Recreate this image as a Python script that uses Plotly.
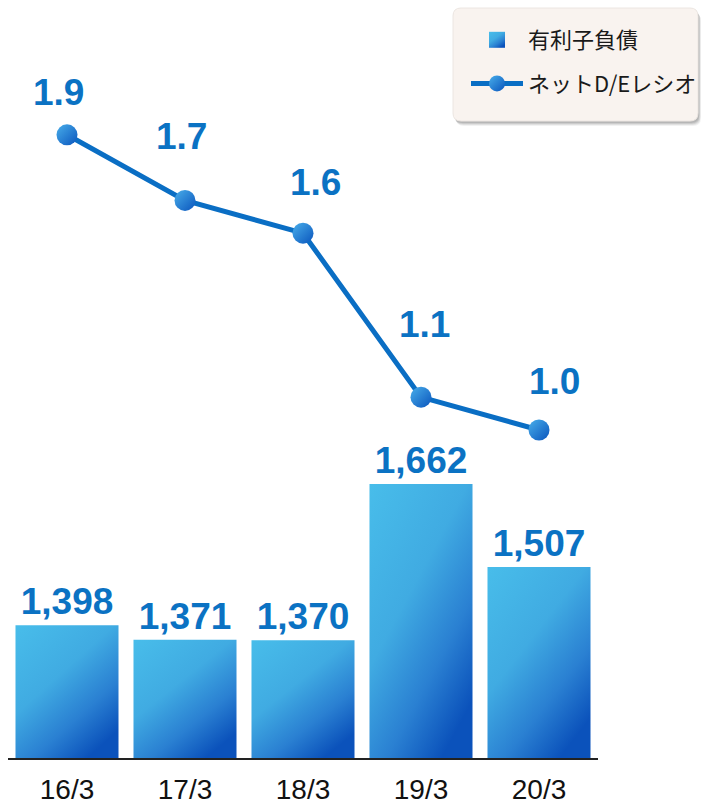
import plotly.graph_objects as go

# ---------------- data ----------------
categories = ["16/3", "17/3", "18/3", "19/3", "20/3"]
debt = [1398, 1371, 1370, 1662, 1507]          # 有利子負債
de_ratio = [1.9, 1.7, 1.6, 1.1, 1.0]           # ネットD/Eレシオ
series_names = ["有利子負債", "ネットD/Eレシオ"]

# ---------------- style ----------------
W, H = 703, 807
ML, MR, MT, MB = 8, 105, 10, 49
PW, PH = W - ML - MR, H - MT - MB
BLUE_TXT = "#0b72c3"
LINE_C = "#0a6ec4"
BAR_C = "#2f93d8"
# per-label pixel nudges for the ratio labels (xshift, yshift)
ratio_label_nudge = [(-9, 20), (-4, 41), (12, 28), (3, 50), (15, 26)]

fig = go.Figure()

fig.add_trace(go.Bar(
    x=categories, y=debt, name=series_names[0], showlegend=False,
    marker=dict(color=BAR_C, line=dict(width=0)),
    texttemplate="%{y:,}", textposition="outside",
    textfont=dict(family="Liberation Sans, Arial", size=37, color=BLUE_TXT, weight="bold"),
    cliponaxis=False, yaxis="y", hoverinfo="skip",
))

fig.add_trace(go.Scatter(
    x=categories, y=de_ratio, name=series_names[1], showlegend=False,
    mode="lines+markers", yaxis="y2",
    line=dict(color=LINE_C, width=5),
    marker=dict(size=21, color="#0d62c0"),
    cliponaxis=False, hoverinfo="skip",
))

# legend entries
fig.add_trace(go.Scatter(
    x=[None], y=[None], name=series_names[0], mode="markers", legendgroup="a",
    marker=dict(symbol="square", size=21, color=BAR_C),
))
fig.add_trace(go.Scatter(
    x=[None], y=[None], name=series_names[1], mode="lines+markers", legendgroup="b",
    line=dict(color=LINE_C, width=5), marker=dict(size=21, color="#0d62c0"),
))

for c, v, (dx, dy) in zip(categories, de_ratio, ratio_label_nudge):
    fig.add_annotation(
        x=c, y=v, xref="x", yref="y2", text=f"{v:.1f}", showarrow=False,
        yanchor="bottom", xanchor="center", xshift=dx, yshift=dy,
        font=dict(family="Liberation Sans, Arial", size=37, color=BLUE_TXT, weight="bold"),
    )

# legend box (rounded, with soft shadow)
def px(x):
    return (x - ML) / PW

def py(y):
    return (H - MB - y) / PH

def rrect(x0, y0, x1, y1, r):
    return (f"M{px(x0 + r)},{py(y0)} L{px(x1 - r)},{py(y0)} "
            f"Q{px(x1)},{py(y0)} {px(x1)},{py(y0 + r)} L{px(x1)},{py(y1 - r)} "
            f"Q{px(x1)},{py(y1)} {px(x1 - r)},{py(y1)} L{px(x0 + r)},{py(y1)} "
            f"Q{px(x0)},{py(y1)} {px(x0)},{py(y1 - r)} L{px(x0)},{py(y0 + r)} "
            f"Q{px(x0)},{py(y0)} {px(x0 + r)},{py(y0)} Z")

for off, op in [(5, 0.05), (4, 0.07), (3, 0.09), (2, 0.10)]:
    fig.add_shape(type="path", path=rrect(453 + off * 0.6, 8 + off, 698 + off * 0.6, 121 + off, 8),
                  xref="paper", yref="paper", fillcolor=f"rgba(0,0,0,{op})",
                  line=dict(width=0), layer="below")
fig.add_shape(type="path", path=rrect(453, 8, 698, 121, 8), xref="paper", yref="paper",
              fillcolor="#f9f3ef", line=dict(color="#ece6e2", width=1), layer="below")

fig.update_layout(
    width=W, height=H,
    margin=dict(l=ML, r=MR, t=MT, b=MB, pad=0, autoexpand=False),
    paper_bgcolor="white", plot_bgcolor="white",
    bargap=0.127,
    showlegend=True,
    legend=dict(
        x=px(466), y=py(19), xanchor="left", yanchor="top",
        bgcolor="rgba(0,0,0,0)", borderwidth=0,
        font=dict(family="Noto Sans CJK JP", size=22, color="#1a1a1a"),
        itemwidth=52, tracegroupgap=12, traceorder="grouped", itemsizing="trace",
    ),
    xaxis=dict(
        type="category", range=[-0.5, 4.5], showline=True, linecolor="#222", linewidth=1.5,
        showgrid=False, zeroline=False, ticks="", automargin=False,
        tickfont=dict(family="Liberation Sans, Arial", size=28, color="#111"),
        ticklabelstandoff=6,
    ),
    yaxis=dict(range=[1150, 1150 + PH / 0.535], visible=False, showgrid=False,
               zeroline=False, automargin=False),
    yaxis2=dict(range=[0, PH / 328.0], overlaying="y", visible=False, showgrid=False,
                zeroline=False, automargin=False),
)

post_js = r"""
var gd = document.getElementById('{plot_id}');
var svg = gd.querySelector('svg.main-svg');
var NS = 'http://www.w3.org/2000/svg';
var defs = document.createElementNS(NS, 'defs');
svg.insertBefore(defs, svg.firstChild);
var barStops = [['0', '#48bdea'], ['0.45', '#40abe2'], ['0.75', '#2a80d2'], ['1', '#0b52bb']];
function mkGrad(id, stops, units, tf, x2, y2) {
  var g = document.createElementNS(NS, 'linearGradient');
  g.setAttribute('id', id);
  g.setAttribute('gradientUnits', units);
  if (tf) g.setAttribute('gradientTransform', tf);
  g.setAttribute('x1', '0'); g.setAttribute('y1', '0');
  g.setAttribute('x2', x2); g.setAttribute('y2', y2);
  stops.forEach(function(s){ var st = document.createElementNS(NS, 'stop');
    st.setAttribute('offset', s[0]); st.setAttribute('stop-color', s[1]); g.appendChild(st); });
  defs.appendChild(g);
}
mkGrad('gBarLeg', barStops, 'objectBoundingBox', null, '0.7', '1');
mkGrad('gDotFill', [['0', '#49aeea'], ['1', '#0a55bd']], 'objectBoundingBox', null, '1', '1');
var plotH = gd._fullLayout._size.h;
gd.querySelectorAll('.barlayer .point path, .barlayer path.point').forEach(function(p, i){
  var bb = p.getBBox();
  var top = Math.max(bb.y, 0), bot = Math.min(bb.y + bb.height, plotH);
  var id = 'gBar' + i;
  mkGrad(id, barStops, 'userSpaceOnUse',
         'matrix(' + bb.width + ',0,0,' + (bot - top) + ',' + bb.x + ',' + top + ')', '0.7', '1');
  p.style.fill = 'url(#' + id + ')';
});
gd.querySelectorAll('.scatterlayer path.point').forEach(function(p){ p.style.fill = 'url(#gDotFill)'; });
gd.querySelectorAll('.legend path.scatterpts').forEach(function(p){
  var d = p.getAttribute('d') || '';
  if (d.indexOf('A') < 0) { p.style.fill = 'url(#gBarLeg)'; }
  else { p.style.fill = 'url(#gDotFill)'; }
});
"""

fig.write_html("out.html", post_script=post_js)
